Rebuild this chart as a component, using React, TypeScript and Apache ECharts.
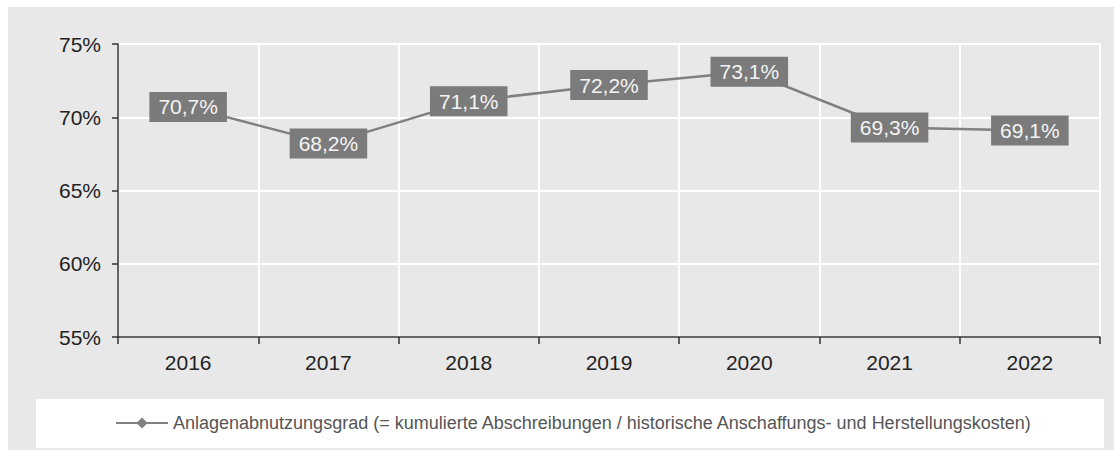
import React, { useEffect, useRef } from "react";
import * as echarts from "echarts";

const years = ["2016", "2017", "2018", "2019", "2020", "2021", "2022"];
const values = [70.7, 68.2, 71.1, 72.2, 73.1, 69.3, 69.1];
const seriesName =
  "Anlagenabnutzungsgrad (= kumulierte Abschreibungen / historische Anschaffungs- und Herstellungskosten)";
const yMin = 55;
const yMax = 75;
const yStep = 5;

export default function App() {
  const ref = useRef<HTMLDivElement>(null);
  useEffect(() => {
    document.body.style.margin = "0";
    const chart = echarts.init(ref.current!, undefined, { renderer: "svg" });
    chart.setOption({
      animation: false,
      backgroundColor: "#e8e8e8",
      textStyle: { fontFamily: "Liberation Sans, Arial, sans-serif" },
      grid: { left: 110, top: 37, right: 14, bottom: 113, containLabel: false },
      graphic: [
        {
          type: "rect",
          shape: { x: 28, y: 392, width: 1068, height: 49 },
          style: { fill: "#ffffff" },
          z: 0,
        },
      ],
      legend: {
        left: 107,
        top: 407,
        padding: 0,
        itemWidth: 52,
        itemHeight: 14,
        itemGap: 6,
        textStyle: { fontSize: 18, color: "#555555" },
        data: [seriesName],
        z: 5,
      },
      xAxis: {
        type: "category",
        data: years,
        boundaryGap: true,
        axisLine: { lineStyle: { color: "#333333", width: 1.5 } },
        axisTick: { show: true, length: 7, lineStyle: { color: "#333333", width: 1.5 } },
        axisLabel: { fontSize: 21, color: "#222222", margin: 15 },
        splitLine: { show: true, lineStyle: { color: "#ffffff", width: 2 } },
      },
      yAxis: {
        type: "value",
        min: yMin,
        max: yMax,
        interval: yStep,
        axisLine: { show: true, lineStyle: { color: "#333333", width: 1.5 } },
        axisTick: { show: true, length: 6, lineStyle: { color: "#333333", width: 1.5 } },
        axisLabel: { fontSize: 21, color: "#222222", margin: 17, formatter: "{value}%" },
        splitLine: { show: true, lineStyle: { color: "#ffffff", width: 2 } },
      },
      series: [
        {
          name: seriesName,
          type: "line",
          data: values,
          symbol: "diamond",
          symbolSize: 9,
          lineStyle: { color: "#808080", width: 2.5 },
          itemStyle: { color: "#808080" },
          label: {
            show: true,
            position: "inside",
            formatter: (p: any) => p.value.toFixed(1).replace(".", ",") + "%",
            fontSize: 21,
            color: "#f4f4f4",
            backgroundColor: "#7b7b7b",
            padding: [5, 9, 4, 9],
          },
        },
      ],
    });
    return () => chart.dispose();
  }, []);
  return (
    <div
      ref={ref}
      style={{ position: "absolute", left: 8, top: 7, width: 1106, height: 443 }}
    />
  );
}
